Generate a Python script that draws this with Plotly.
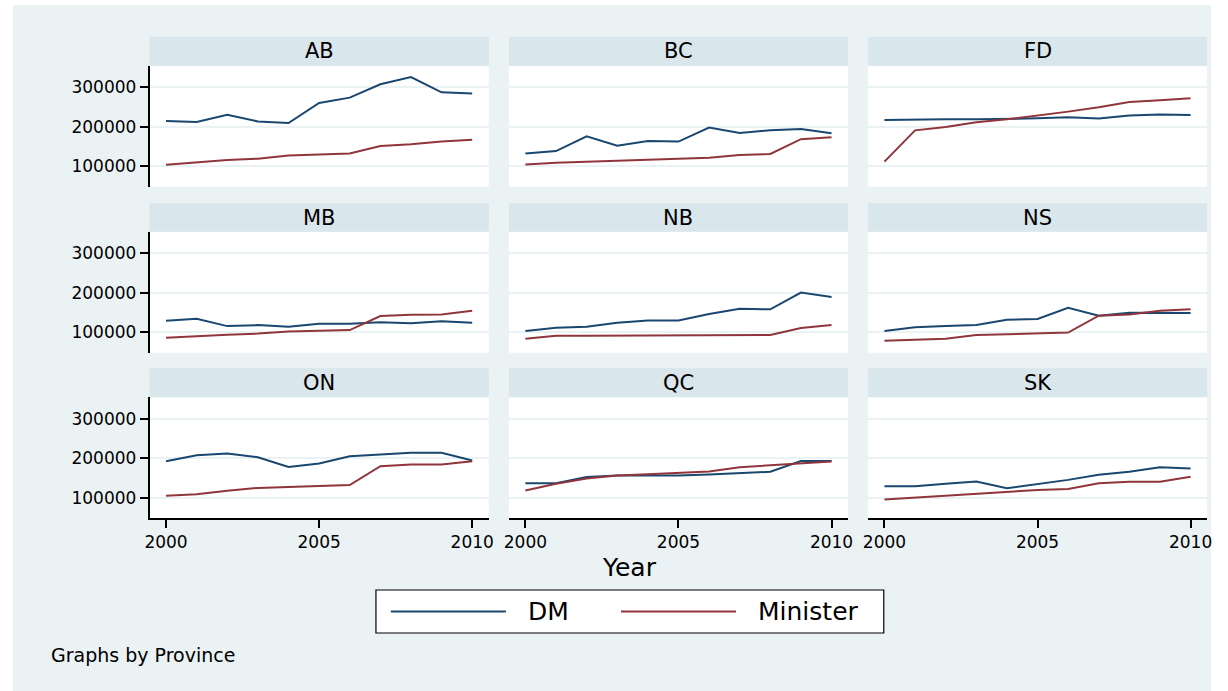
import plotly.graph_objects as go

W, H = 1228, 691

years = list(range(2000, 2011))
provinces = ["AB", "BC", "FD", "MB", "NB", "NS", "ON", "QC", "SK"]

# Median salary series by province
dm_ab = [214000, 211500, 230000, 213000, 209000, 260000, 273500, 307500, 325500, 287000, 284000]
min_ab = [103500, 109500, 115500, 118500, 126500, 129000, 131500, 151000, 155500, 162000, 166500]
dm_bc = [132000, 138000, 175500, 151500, 163500, 162000, 197500, 184000, 190500, 194000, 183000]
min_bc = [104000, 108500, 110500, 113500, 116000, 118500, 121000, 128000, 130500, 168000, 173000]
dm_fd = [217000, 218500, 218500, 218500, 219000, 221000, 223500, 220500, 228000, 231000, 229500]
min_fd = [111000, 190500, 199000, 211000, 218500, 228000, 238000, 249000, 262500, 267000, 272000]
dm_mb = [128500, 133500, 115000, 117500, 113500, 121000, 121000, 124500, 122000, 127000, 123500]
min_mb = [85500, 90000, 93000, 96000, 101000, 103500, 105000, 140500, 144000, 144500, 154000]
dm_nb = [102500, 111000, 113500, 123500, 129500, 129500, 145500, 159000, 157500, 200000, 189000]
min_nb = [83000, 90500, 90500, 91000, 91000, 91000, 91500, 93000, 92500, 110000, 117500]
dm_ns = [102500, 112000, 115000, 117500, 131000, 133000, 161500, 141500, 149000, 148000, 148000]
min_ns = [78000, 80500, 83000, 92500, 94000, 96500, 98500, 141500, 144500, 154000, 157500]
dm_on = [192500, 207500, 212000, 202500, 178000, 186500, 205000, 210000, 213500, 213500, 194000]
min_on = [105000, 108500, 117500, 124500, 127000, 129500, 132000, 179500, 184000, 184000, 192500]
dm_qc = [136500, 136500, 152000, 156000, 156000, 156000, 158500, 162000, 165500, 193000, 193000]
min_qc = [118000, 135000, 148500, 156000, 159500, 163000, 166000, 177000, 181500, 185500, 191500]
dm_sk = [128500, 128500, 135000, 141000, 124000, 134000, 145000, 158000, 165500, 177000, 174000]
min_sk = [95000, 100000, 105000, 109500, 116000, 119500, 122000, 136500, 140000, 140000, 153000]

dm_series = [dm_ab, dm_bc, dm_fd, dm_mb, dm_nb, dm_ns, dm_on, dm_qc, dm_sk]
min_series = [min_ab, min_bc, min_fd, min_mb, min_nb, min_ns, min_on, min_qc, min_sk]

y_ticks = [100000, 200000, 300000]
x_ticks = [2000, 2005, 2010]

DM_COLOR = "#1a476f"
MIN_COLOR = "#90353b"
BG = "#eaf2f3"
STRIP = "#d9e6eb"
FONT = "DejaVu Sans"

# panel geometry in pixels
col_x = [(145.7, 487.7), (508, 850), (870, 1212)]
row_plot = [(65.7, 186.7), (231.7, 352.7), (397.3, 518.3)]
row_strip = [(36.7, 65.7), (203.3, 231.7), (368.3, 397.3)]


def px(x):
    return x / W


def py(y):
    return 1 - y / H


fig = go.Figure()
layout = dict(
    width=W, height=H,
    margin=dict(l=0, r=0, t=0, b=0),
    paper_bgcolor="white",
    plot_bgcolor="white",
    showlegend=False,
    font=dict(family=FONT, color="black"),
)
shapes = [dict(type="rect", xref="paper", yref="paper",
               x0=px(8), x1=px(1216), y0=py(5), y1=py(691),
               fillcolor=BG, line=dict(width=0), layer="below")]
annotations = []

for i, prov in enumerate(provinces):
    r, c = divmod(i, 3)
    n = "" if i == 0 else str(i + 1)
    xa, ya = "xaxis" + n, "yaxis" + n
    x0, x1 = col_x[c]
    t0, t1 = row_plot[r]
    s0, s1 = row_strip[r]

    layout[xa] = dict(
        domain=[px(x0), px(x1)], anchor="y" + n,
        range=[1999.46, 2010.54], tickvals=x_ticks,
        showgrid=False, zeroline=False,
        showline=(r == 2), linecolor="black", linewidth=1.5,
        ticks="outside" if r == 2 else "", ticklen=8, tickwidth=1.5, tickcolor="black",
        showticklabels=(r == 2), tickfont=dict(size=17, family=FONT, color="black"),
    )
    layout[ya] = dict(
        domain=[py(t1), py(t0)], anchor="x" + n,
        range=[47500, 354500], tickvals=y_ticks,
        showgrid=True, gridcolor=BG, gridwidth=1.5, zeroline=False,
        showline=(c == 0), linecolor="black", linewidth=1.5,
        ticks="outside" if c == 0 else "", ticklen=8, tickwidth=1.5, tickcolor="black",
        showticklabels=(c == 0), tickformat="d",
        tickfont=dict(size=17, family=FONT, color="black"),
    )
    # white plot region (drawn above the shared background rectangle)
    shapes.append(dict(type="rect", xref="paper", yref="paper",
                       x0=px(x0), x1=px(x1), y0=py(t1), y1=py(t0),
                       fillcolor="white", line=dict(width=0), layer="below"))
    # strip header
    shapes.append(dict(type="rect", xref="paper", yref="paper",
                       x0=px(x0), x1=px(x1), y0=py(s1), y1=py(s0),
                       fillcolor=STRIP, line=dict(width=0), layer="below"))
    annotations.append(dict(text=prov, xref="paper", yref="paper",
                            x=px((x0 + x1) / 2), y=py((s0 + s1) / 2),
                            xanchor="center", yanchor="middle", showarrow=False,
                            font=dict(size=21, family=FONT, color="black")))

    fig.add_trace(go.Scatter(x=years, y=dm_series[i], mode="lines", name="DM",
                             line=dict(color=DM_COLOR, width=2),
                             xaxis="x" + n, yaxis="y" + n))
    fig.add_trace(go.Scatter(x=years, y=min_series[i], mode="lines", name="Minister",
                             line=dict(color=MIN_COLOR, width=2),
                             xaxis="x" + n, yaxis="y" + n))

# x-axis title
annotations.append(dict(text="Year", xref="paper", yref="paper",
                        x=px(630), y=py(567), xanchor="center", yanchor="middle",
                        showarrow=False, font=dict(size=25, family=FONT, color="black")))

# legend box
shapes.append(dict(type="rect", xref="paper", yref="paper",
                   x0=px(374), x1=px(886), y0=py(633), y1=py(590),
                   fillcolor="white", line=dict(color="black", width=1.2)))
for (lx0, lx1, tx, label, color) in [(389, 505, 525, "DM", DM_COLOR),
                                      (621, 737, 757, "Minister", MIN_COLOR)]:
    shapes.append(dict(type="line", xref="paper", yref="paper",
                       x0=px(lx0), x1=px(lx1), y0=py(611.5), y1=py(611.5),
                       line=dict(color=color, width=2)))
    annotations.append(dict(text=label, xref="paper", yref="paper",
                            x=px(tx), y=py(611.5), xanchor="left", yanchor="middle",
                            showarrow=False, font=dict(size=25, family=FONT, color="black")))

annotations.append(dict(text="Graphs by Province", xref="paper", yref="paper",
                        x=px(44), y=py(655), xanchor="left", yanchor="middle",
                        showarrow=False, font=dict(size=19, family=FONT, color="black")))

layout["shapes"] = shapes
layout["annotations"] = annotations
fig.update_layout(**layout)

fig.write_html("out.html")
